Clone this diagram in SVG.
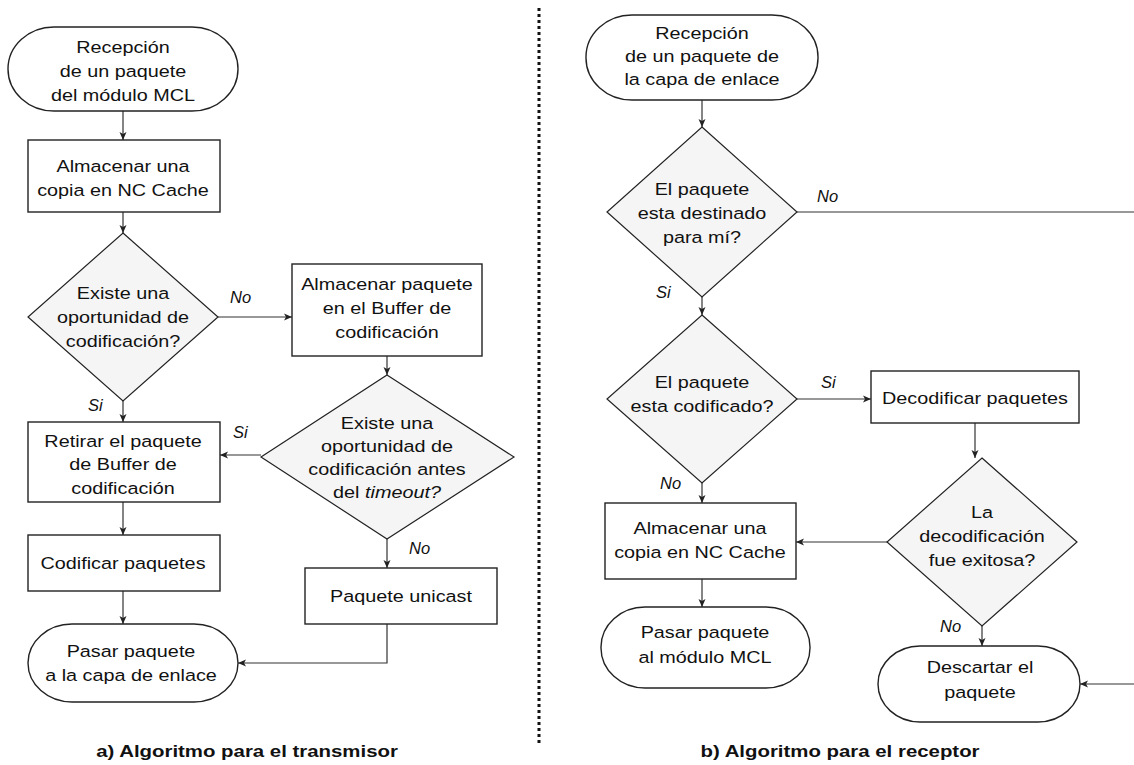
<svg xmlns="http://www.w3.org/2000/svg" width="1134" height="765" viewBox="0 0 1134 765">
  <style>
    .box { fill: #ffffff; stroke: #222222; stroke-width: 1.4; }
    .dec { fill: #f5f5f5; stroke: #222222; stroke-width: 1.2; }
    .term { fill: #ffffff; stroke: #222222; stroke-width: 1.4; }
    .lbl { font-family: "Liberation Sans", Arial, sans-serif; font-size: 16.5px; fill: #111111; text-anchor: middle; }
    .cond { font-family: "Liberation Sans", Arial, sans-serif; font-size: 16.5px; font-style: italic; fill: #111111; }
    .title { font-family: "Liberation Sans", Arial, sans-serif; font-size: 17px; font-weight: bold; fill: #111111; text-anchor: middle; }
    .edge { fill: none; stroke: #333333; stroke-width: 1.2; }
    .sep { fill: none; stroke: #111111; stroke-width: 3; stroke-dasharray: 3 3; }
  </style>
  <defs>
    <marker id="arrow" markerUnits="userSpaceOnUse" markerWidth="9" markerHeight="8" refX="8" refY="4" orient="auto">
      <path d="M0,0.5 L8,4 L0,7.5 L2,4 z" fill="#222222"/>
    </marker>
  </defs>

  <rect width="1134" height="765" fill="#ffffff"/>

  <!-- separator between the two algorithms -->
  <line class="sep" x1="539" y1="8" x2="539" y2="745"/>

  <!-- connectors -->
  <g id="connectors">
    <!-- transmitter -->
    <path class="edge" d="M123,111 V140" marker-end="url(#arrow)"/>
    <path class="edge" d="M123,212 V233" marker-end="url(#arrow)"/>
    <path class="edge" d="M123,401 V422" marker-end="url(#arrow)"/>
    <path class="edge" d="M218,317 H292" marker-end="url(#arrow)"/>
    <path class="edge" d="M387,356 V375" marker-end="url(#arrow)"/>
    <path class="edge" d="M261,455 H220" marker-end="url(#arrow)"/>
    <path class="edge" d="M387,539 V568" marker-end="url(#arrow)"/>
    <path class="edge" d="M123,502 V535" marker-end="url(#arrow)"/>
    <path class="edge" d="M123,591 V624" marker-end="url(#arrow)"/>
    <path class="edge" d="M387,624 V663 H238" marker-end="url(#arrow)"/>
    <!-- receiver -->
    <path class="edge" d="M702,100 V127" marker-end="url(#arrow)"/>
    <path class="edge" d="M702,297 V315" marker-end="url(#arrow)"/>
    <path class="edge" d="M797,399 H871" marker-end="url(#arrow)"/>
    <path class="edge" d="M702,483 V503" marker-end="url(#arrow)"/>
    <path class="edge" d="M975,423 V458" marker-end="url(#arrow)"/>
    <path class="edge" d="M887,542 H796" marker-end="url(#arrow)"/>
    <path class="edge" d="M702,579 V607" marker-end="url(#arrow)"/>
    <path class="edge" d="M982,626 V646" marker-end="url(#arrow)"/>
    <!-- "No" branch runs along the right margin down to the discard terminal -->
    <path class="edge" d="M797,212 H1134.6 V684 H1080" marker-end="url(#arrow)"/>

    <!-- branch labels -->
    <text class="cond" x="88" y="411">Si</text>
    <text class="cond" x="230" y="303">No</text>
    <text class="cond" x="233" y="438">Si</text>
    <text class="cond" x="409" y="554">No</text>
    <text class="cond" x="817" y="202">No</text>
    <text class="cond" x="656" y="298">Si</text>
    <text class="cond" x="821" y="388">Si</text>
    <text class="cond" x="660" y="489">No</text>
    <text class="cond" x="940" y="632">No</text>
  </g>

  <!-- a) transmitter -->
  <g id="tx-receive">
    <rect class="term" x="8" y="27" width="230" height="84" rx="46" ry="42"/>
    <text class="lbl" transform="translate(123 0) scale(1.2 1)" y="53">Recepción</text>
    <text class="lbl" transform="translate(123 0) scale(1.2 1)" y="77">de un paquete</text>
    <text class="lbl" transform="translate(123 0) scale(1.2 1)" y="101">del módulo MCL</text>
  </g>
  <g id="tx-store">
    <rect class="box" x="28" y="140" width="192" height="72"/>
    <text class="lbl" transform="translate(123 0) scale(1.2 1)" y="172">Almacenar una</text>
    <text class="lbl" transform="translate(123 0) scale(1.2 1)" y="196">copia en NC Cache</text>
  </g>
  <g id="tx-opportunity">
    <polygon class="dec" points="123,233 218,317 123,401 28,317"/>
    <text class="lbl" transform="translate(123 0) scale(1.2 1)" y="299">Existe una</text>
    <text class="lbl" transform="translate(123 0) scale(1.2 1)" y="323">oportunidad de</text>
    <text class="lbl" transform="translate(123 0) scale(1.2 1)" y="347">codificación?</text>
  </g>
  <g id="tx-buffer">
    <rect class="box" x="292" y="264" width="190" height="92"/>
    <text class="lbl" transform="translate(387 0) scale(1.2 1)" y="290">Almacenar paquete</text>
    <text class="lbl" transform="translate(387 0) scale(1.2 1)" y="314">en el Buffer de</text>
    <text class="lbl" transform="translate(387 0) scale(1.2 1)" y="338">codificación</text>
  </g>
  <g id="tx-timeout">
    <polygon class="dec" points="387,375 514,457 387,539 261,457"/>
    <text class="lbl" transform="translate(387 0) scale(1.2 1)" y="429">Existe una</text>
    <text class="lbl" transform="translate(387 0) scale(1.2 1)" y="452">oportunidad de</text>
    <text class="lbl" transform="translate(387 0) scale(1.2 1)" y="475">codificación antes</text>
    <text class="lbl" transform="translate(387 0) scale(1.2 1)" y="498">del <tspan font-style="italic">timeout?</tspan></text>
  </g>
  <g id="tx-remove">
    <rect class="box" x="28" y="422" width="192" height="80"/>
    <text class="lbl" transform="translate(123 0) scale(1.2 1)" y="447">Retirar el paquete</text>
    <text class="lbl" transform="translate(123 0) scale(1.2 1)" y="470">de Buffer de</text>
    <text class="lbl" transform="translate(123 0) scale(1.2 1)" y="494">codificación</text>
  </g>
  <g id="tx-encode">
    <rect class="box" x="28" y="535" width="192" height="56"/>
    <text class="lbl" transform="translate(123 0) scale(1.2 1)" y="569">Codificar paquetes</text>
  </g>
  <g id="tx-unicast">
    <rect class="box" x="305" y="568" width="192" height="56"/>
    <text class="lbl" transform="translate(401 0) scale(1.2 1)" y="602">Paquete unicast</text>
  </g>
  <g id="tx-pass">
    <rect class="term" x="28" y="624" width="210" height="78" rx="44" ry="39"/>
    <text class="lbl" transform="translate(131 0) scale(1.2 1)" y="657">Pasar paquete</text>
    <text class="lbl" transform="translate(131 0) scale(1.2 1)" y="681">a la capa de enlace</text>
  </g>

  <!-- b) receiver -->
  <g id="rx-receive">
    <rect class="term" x="586" y="15" width="232" height="85" rx="46" ry="42"/>
    <text class="lbl" transform="translate(702 0) scale(1.2 1)" y="39">Recepción</text>
    <text class="lbl" transform="translate(702 0) scale(1.2 1)" y="62">de un paquete de</text>
    <text class="lbl" transform="translate(702 0) scale(1.2 1)" y="85">la capa de enlace</text>
  </g>
  <g id="rx-destined">
    <polygon class="dec" points="702,127 797,212 702,297 607,212"/>
    <text class="lbl" transform="translate(702 0) scale(1.2 1)" y="195">El paquete</text>
    <text class="lbl" transform="translate(702 0) scale(1.2 1)" y="219">esta destinado</text>
    <text class="lbl" transform="translate(702 0) scale(1.2 1)" y="243">para mí?</text>
  </g>
  <g id="rx-coded">
    <polygon class="dec" points="702,315 797,399 702,483 607,399"/>
    <text class="lbl" transform="translate(702 0) scale(1.2 1)" y="388">El paquete</text>
    <text class="lbl" transform="translate(702 0) scale(1.2 1)" y="412">esta codificado?</text>
  </g>
  <g id="rx-decode">
    <rect class="box" x="871" y="371" width="208" height="52"/>
    <text class="lbl" transform="translate(975 0) scale(1.2 1)" y="404">Decodificar paquetes</text>
  </g>
  <g id="rx-success">
    <polygon class="dec" points="982,458 1077,542 982,626 887,542"/>
    <text class="lbl" transform="translate(982 0) scale(1.2 1)" y="518">La</text>
    <text class="lbl" transform="translate(982 0) scale(1.2 1)" y="542">decodificación</text>
    <text class="lbl" transform="translate(982 0) scale(1.2 1)" y="566">fue exitosa?</text>
  </g>
  <g id="rx-store">
    <rect class="box" x="605" y="503" width="191" height="76"/>
    <text class="lbl" transform="translate(700 0) scale(1.2 1)" y="534">Almacenar una</text>
    <text class="lbl" transform="translate(700 0) scale(1.2 1)" y="558">copia en NC Cache</text>
  </g>
  <g id="rx-pass">
    <rect class="term" x="601" y="607" width="209" height="81" rx="44" ry="40"/>
    <text class="lbl" transform="translate(705 0) scale(1.2 1)" y="638">Pasar paquete</text>
    <text class="lbl" transform="translate(705 0) scale(1.2 1)" y="663">al módulo MCL</text>
  </g>
  <g id="rx-discard">
    <rect class="term" x="878" y="646" width="202" height="76" rx="42" ry="38"/>
    <text class="lbl" transform="translate(980 0) scale(1.2 1)" y="673">Descartar el</text>
    <text class="lbl" transform="translate(980 0) scale(1.2 1)" y="698">paquete</text>
  </g>

  <!-- captions -->
  <text class="title" transform="translate(247 0) scale(1.2 1)" y="757">a) Algoritmo para el transmisor</text>
  <text class="title" transform="translate(840 0) scale(1.2 1)" y="757">b) Algoritmo para el receptor</text>
</svg>
